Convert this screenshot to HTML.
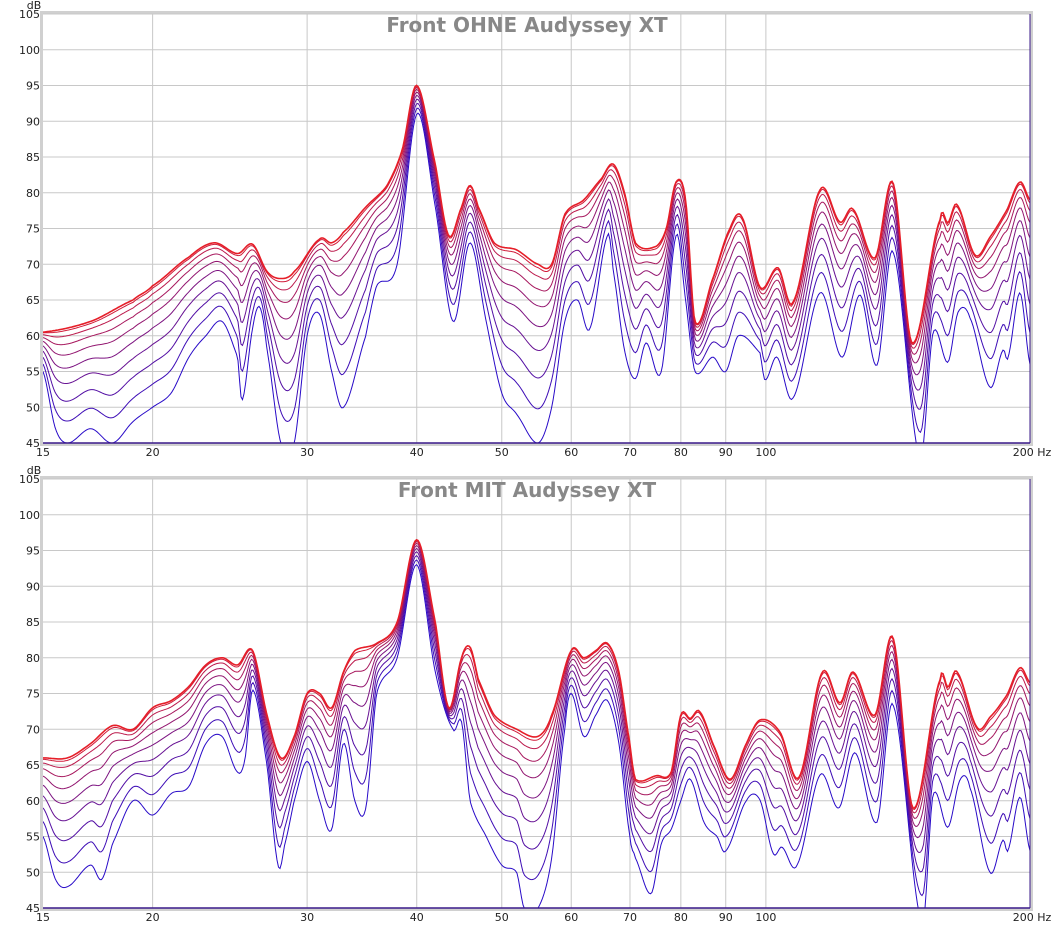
<!DOCTYPE html>
<html><head><meta charset="utf-8"><style>
body{margin:0;background:#fff;width:1052px;height:930px;overflow:hidden}
svg{display:block;font-family:"DejaVu Sans","Liberation Sans",sans-serif}
</style></head><body>
<svg id="s" width="1052" height="930" xmlns="http://www.w3.org/2000/svg"></svg>
<script>
const S=document.getElementById('s');let h='';
const X0=43,X1=1030;const px=f=>X0+Math.log10(f/15)/Math.log10(200/15)*(X1-X0);
const fx=x=>15*Math.pow(200/15,(x-X0)/(X1-X0));
const P=a=>a.map(p=>[fx(p[0]),p[1]]);
const cut=a=>a.filter(p=>p[0]<97);
const charts=[
{top:14,title:"Front OHNE Audyssey XT",
red:cut([[15,60.5],[17,62],[19,65],[20,67],[22,71],[23.5,73],[25,71.5],[26,72.8],[27,69],[28,68],[29,69],[31,73.5],[32,73],[33,74.5],[35,78],[37,81],[38.5,86],[40,95],[42,84],[43.5,74],[45,78],[46,81],[47,78],[49,73],[52,72],[55,70],[57,70],[59,77],[62,79],[65,82],[67,84],[69,80],[71,73],[75,72.5],[77,75],[79,81.5],[81,79],[83,62],[87,68],[91,75],[94,76.5]]).concat(P([[760,66.8],[778,69.5],[793,64.7],[820,80.4],[840,75.9],[853,77.7],[875,70.9],[893,81.4],[912,59],[940,76.2],[948,75.8],[957,78.3],[975,71.3],[990,73.8],[1007,77.6],[1020,81.5],[1030,79]])),
blue:cut([[15,55],[15.5,47],[16,45],[17,47],[18,45],[19,48],[20,50],[21,52],[22,57],[23,60],[24,62],[25,57],[25.3,51],[26,61],[26.5,64],[27,58],[28,45],[29,45],[30,60],[31,63],[32,55],[33,50],[35,60],[36,67],[38,70],[40,91],[42,78],[44,62],[46,73],[48,62],[50,52],[52,49],[55,45],[57,50],[59,62],[61,65],[63,61],[66,74],[67,69],[69,58],[71,54],[73,59],[76,55],[79,74],[81,65],[83,55],[87,57],[90,55],[93,60]]).concat(P([[760,57.6],[765,53.8],[777,57],[793,51.3],[820,66],[842,57],[860,65.7],[877,55.9],[893,71.7],[920,43],[933,60.4],[948,56.3],[958,63.3],[970,62.5],[990,52.8],[1003,58],[1008,57],[1020,66],[1030,56]]))},
{top:479,title:"Front MIT Audyssey XT",
red:cut([[15,66],[16,66],[17,68],[18,70.5],[19,70],[20,73],[21,74],[22,76],[23,79],[24,80],[25,79],[26,81],[27,72],[28,66],[29,69],[30,75],[31,75],[32,73],[33,78],[34,81],[36,82],[38,85],[40,96.5],[42,85],[43.5,73],[45,80],[46,81.5],[47,77],[49,72],[52,70],[55,69],[57,72],[60,81],[62,80],[64,81],[66,82],[68,78],[70,68],[71,63],[75,63.5],[78,64],[80,72],[82,71.5],[84,72.5],[87,68],[91,63],[95,68]]).concat(P([[760,71.3],[780,69.6],[799,63.3],[822,77.9],[840,73.7],[853,78],[875,72],[893,82.8],[913,59],[940,76.9],[948,75.9],[957,78],[977,70.3],[990,71.7],[1007,74.8],[1020,78.6],[1030,76.5]])),
blue:cut([[15,55],[15.5,49],[16,48],[17,51],[17.5,49],[18,54],[19,60],[20,58],[21,61],[22,62],[23,68],[24,69],[25,64],[25.5,66],[26,75.5],[27,65],[27.8,51],[28.3,54],[29,60],[30,65.5],[31,60],[32,56],[33,68],[34,60],[35,59],[36,75],[38,80],[40,93],[42,78],[44,70],[45,71],[46,60],[48,55],[50,51],[52,50],[53,45],[55,45],[57,52],[59,70],[60,75],[62,69],[64,72],[66,74],[68,68],[70,55],[71,52],[74,47],[76,54],[78,56],[80,60],[82,63],[85,57],[88,55],[90,53],[95,60]]).concat(P([[760,60.1],[773,52.7],[782,53.5],[797,51],[820,63.6],[839,59],[855,66.7],[877,57],[893,73.4],[922,43],[933,60.8],[948,56.3],[960,62.9],[970,61.8],[990,50],[1003,54.5],[1008,53.1],[1020,60.5],[1030,53]]))}];
function interp(pts,f){const lx=Math.log(f);const L=pts.map(p=>[Math.log(p[0]),p[1]]);
for(let i=0;i<L.length-1;i++){if(lx<=L[i+1][0]){const p0=L[Math.max(0,i-1)],p1=L[i],p2=L[i+1],p3=L[Math.min(L.length-1,i+2)];
const t=(lx-p1[0])/(p2[0]-p1[0]);const m1=(p2[1]-p0[1])/2,m2=(p3[1]-p1[1])/2;const t2=t*t,t3=t2*t;
return (2*t3-3*t2+1)*p1[1]+(t3-2*t2+t)*m1+(-2*t3+3*t2)*p2[1]+(t3-t2)*m2;}}return L[L.length-1][1];}
charts.forEach((c,ci)=>{const T=c.top,B=T+429;const py=d=>T+(105-d)*(429/60);
h+=`<rect x="${X0-3}" y="${T-3}" width="${X1-X0+6}" height="${B-T+6}" fill="#d0d0d0"/><rect x="${X0}" y="${T}" width="${X1-X0}" height="${B-T}" fill="#fff"/>`;
for(let d=45;d<=105;d+=5){h+=`<line x1="${X0}" x2="${X1}" y1="${py(d)}" y2="${py(d)}" stroke="#c8c8c8"/>`;
h+=`<text x="40" y="${py(d)+4}" font-size="11" text-anchor="end" fill="#222">${d}</text>`;}
[20,30,40,50,60,70,80,90,100].forEach(f=>{h+=`<line x1="${px(f)}" x2="${px(f)}" y1="${T}" y2="${B}" stroke="#c8c8c8"/>`;});
[15,20,30,40,50,60,70,80,90,100].forEach(f=>{h+=`<text x="${px(f)}" y="${B+13}" font-size="11" text-anchor="middle" fill="#222">${f}</text>`;});
h+=`<text x="1032" y="${B+13}" font-size="11" text-anchor="middle" fill="#222">200 Hz</text>`;
h+=`<text x="34" y="${T-5}" font-size="11" text-anchor="middle" fill="#222">dB</text>`;
h+=`<clipPath id="c${ci}"><rect x="${X0}" y="${T}" width="${X1-X0}" height="${B-T}"/></clipPath><g clip-path="url(#c${ci})" fill="none">`;
const N=10;for(let k=0;k<N;k++){const t=k/(N-1);const w=1-Math.pow(1-t,1.8);
const r=Math.round(40+t*190),g=Math.round(10+t*20),b=Math.round(200-t*160);let d='';
for(let x=X0;x<=X1;x+=1.5){const f=fx(x);const rv=interp(c.red,f),bv=interp(c.blue,f);
const v=bv+(rv-bv)*w;d+=(d?'L':'M')+x.toFixed(1)+' '+py(v).toFixed(1);}
h+=`<path d="${d}" stroke="rgb(${r},${g},${b})" stroke-width="${k==N-1?1.6:1}"/>`;}
h+=`</g><line x1="${X0}" x2="${X1}" y1="${B}" y2="${B}" stroke="#3a1a8a" stroke-width="1.5"/><line x1="${X1}" x2="${X1}" y1="${T}" y2="${B}" stroke="#3a1a8a"/>`;
h+=`<text x="527" y="${T+18}" font-size="20" font-weight="bold" text-anchor="middle" fill="#888">${c.title}</text>`;});
S.innerHTML=h;
</script>
</body></html>
